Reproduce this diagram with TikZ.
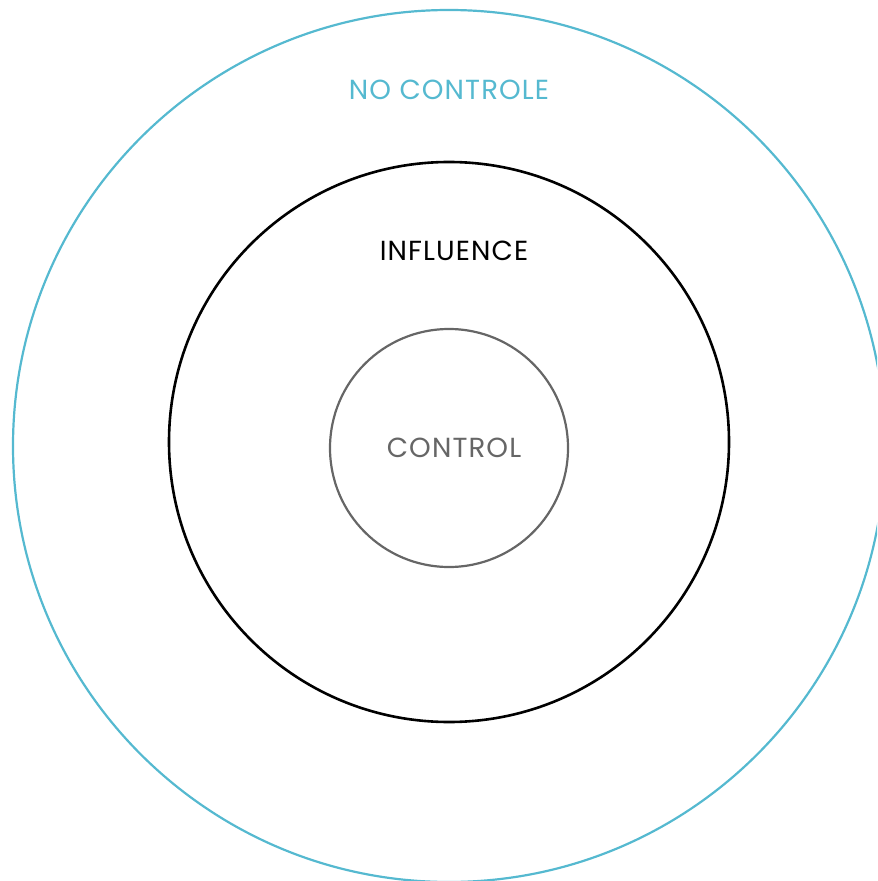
\documentclass[tikz,border=0pt]{standalone}
\usepackage{fontspec}
\setmainfont{Poppins}[LetterSpace=4]

\definecolor{ringblue}{HTML}{55B9D0}
\definecolor{ringgray}{HTML}{666666}

\tikzset{
  ring/.style={draw, circle, line width=1.1pt, inner sep=0pt},
  ringlabel/.style={font=\fontsize{13.8}{16}\selectfont, inner sep=0pt}
}

\begin{document}
\begin{tikzpicture}[x=0.5pt, y=-0.5pt]
    \useasboundingbox (0,0) rectangle (877,881);

    % Define the centres of the rings
    \coordinate (outerPos) at (449,446);
    \coordinate (influencePos) at (449,442);
    \coordinate (controlPos) at (449,448);

    % Draw the rings
    \begin{scope}
        \clip (0,0) rectangle (877,881);
        \node[ring, draw=ringblue, minimum size=436pt] (outer) at (outerPos) {};
    \end{scope}
    \node[ring, draw=black, line width=1.3pt, minimum size=280pt] (influence) at (influencePos) {};
    \node[ring, draw=ringgray, minimum size=119pt] (control) at (controlPos) {};

    % Draw the labels
    \node[ringlabel, text=ringblue] (noControlLabel) at (449,90) {NO CONTROLE};
    \node[ringlabel, text=black] (influenceLabel) at (454,251) {INFLUENCE};
    \node[ringlabel, text=ringgray] (controlLabel) at (454,448) {CONTROL};
\end{tikzpicture}
\end{document}
